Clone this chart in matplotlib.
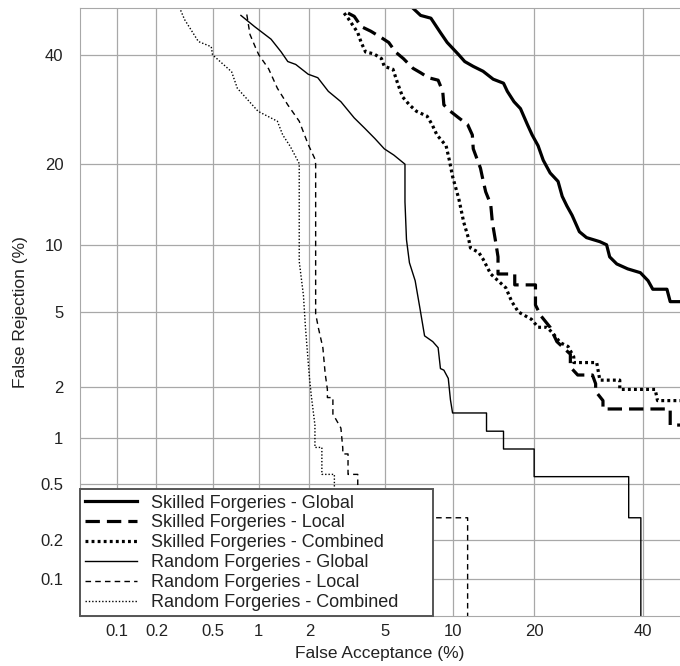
import numpy as np
import matplotlib
matplotlib.use("Agg")
import matplotlib.pyplot as plt
from statistics import NormalDist

# -----------------------------
# DATA (percent values)
# -----------------------------
sg_far = [6.8, 7.3, 8.1, 8.9, 9.5, 10.6, 11.2, 12.1, 13.2, 14.4, 15.7, 16.2, 17.1, 18.0,
          19.0, 19.7, 20.6, 21.4, 22.5, 23.8, 24.5, 25.3, 26.2, 27.5, 28.8, 31.3, 32.6,
          33.2, 34.6, 36.8, 39.4, 41.0, 42.0, 45.0, 45.7, 48.0]
sg_frr = [49.8, 48.4, 47.8, 44.7, 42.6, 40.0, 38.6, 37.6, 36.6, 35.0, 34.2, 32.6, 30.6, 29.3,
          26.4, 24.6, 22.8, 20.5, 18.6, 17.4, 15.4, 14.2, 13.1, 11.3, 10.7, 10.3, 10.0,
          8.9, 8.3, 7.9, 7.6, 7.0, 6.4, 6.4, 5.6, 5.6]

sl_far = [3.25, 3.5, 3.8, 4.25, 4.8, 5.2, 5.6, 6.1, 6.75, 7.3, 7.9, 8.7, 9.1, 9.2, 9.8, 10.6,
          11.5, 12.0, 12.1, 12.9, 13.1, 13.5, 14.1, 14.3, 14.7, 15.0, 15.0, 17.2, 17.2, 20.2,
          20.2, 21.0, 22.5, 23.6, 25.9, 25.9, 27.2, 29.9, 30.5, 30.5, 31.9, 31.9, 45.7, 45.7, 48.0]
sl_frr = [48.9, 48.2, 46.0, 45.0, 43.6, 42.6, 40.6, 39.2, 37.2, 36.3, 35.3, 34.8, 32.6, 30.0,
          28.8, 27.6, 26.4, 24.6, 22.3, 19.3, 18.1, 16.0, 14.4, 12.3, 10.3, 8.9, 7.5, 7.5,
          6.7, 6.7, 5.4, 4.8, 4.2, 3.55, 3.05, 2.6, 2.35, 2.35, 2.1, 1.9, 1.68, 1.5, 1.5,
          1.2, 1.2]

sc_far = [3.1, 3.25, 3.65, 3.8, 4.0, 4.4, 4.8, 4.95, 5.45, 5.75, 6.05, 6.5, 7.0, 7.8, 8.2,
          8.6, 9.4, 9.7, 10.0, 10.6, 11.1, 11.6, 11.8, 12.7, 13.2, 14.1, 15.0, 16.0, 16.8,
          17.7, 19.6, 20.6, 22.0, 23.0, 24.2, 25.5, 26.5, 26.5, 30.7, 31.3, 35.2, 35.2, 42.5,
          43.0, 48.0]
sc_frr = [48.9, 47.8, 44.7, 42.6, 40.6, 40.2, 39.2, 37.6, 37.0, 34.0, 31.5, 30.0, 28.8, 27.9,
          26.4, 24.6, 22.8, 20.5, 18.1, 15.1, 12.3, 10.6, 9.7, 9.3, 8.7, 7.5, 7.0, 6.5, 5.6,
          5.0, 4.6, 4.2, 4.2, 3.9, 3.5, 3.35, 2.95, 2.75, 2.75, 2.2, 2.2, 1.95, 1.95, 1.68, 1.68]

rg_far = [0.77, 0.94, 1.19, 1.37, 1.5, 1.67, 1.97, 2.23, 2.55, 2.98, 3.5, 3.95, 4.45, 4.95,
          5.5, 6.2, 6.2, 6.3, 6.5, 6.9, 7.25, 7.6, 8.25, 8.7, 8.9, 9.2, 9.6, 9.8, 10.0, 13.6,
          13.6, 15.7, 15.7, 20.0, 20.0, 37.0, 37.0, 39.5, 39.5]
rg_frr = [48.4, 46.0, 43.3, 40.6, 38.6, 38.0, 36.0, 35.3, 32.6, 30.6, 27.6, 25.8, 24.0, 22.3,
          21.3, 19.9, 14.7, 10.5, 8.4, 7.0, 5.2, 3.8, 3.55, 3.3, 2.55, 2.5, 2.25, 1.7, 1.42,
          1.42, 1.1, 1.1, 0.85, 0.85, 0.56, 0.56, 0.29, 0.29, 0.01]

rl_far = [0.84, 0.88, 0.96, 1.0, 1.15, 1.3, 1.5, 1.75, 1.97, 2.15, 2.17, 2.17, 2.25, 2.38,
          2.45, 2.52, 2.52, 2.7, 2.7, 2.98, 3.05, 3.05, 3.25, 3.25, 3.65, 3.65, 11.5, 11.5]
rl_frr = [48.6, 44.3, 41.3, 40.0, 37.1, 33.2, 30.0, 27.0, 23.0, 20.7, 19.9, 4.9, 4.15, 3.3,
          2.4, 1.95, 1.75, 1.75, 1.4, 1.15, 0.86, 0.79, 0.79, 0.58, 0.58, 0.29, 0.29, 0.01]

rc_far = [0.30, 0.32, 0.40, 0.49, 0.50, 0.67, 0.73, 0.99, 1.30, 1.40, 1.55, 1.75, 1.75, 1.85,
          1.90, 2.00, 2.05, 2.15, 2.15, 2.35, 2.35, 2.75, 2.75]
rc_frr = [49.5, 47.5, 42.8, 41.7, 40.0, 36.5, 33.2, 28.8, 27.0, 24.6, 22.7, 20.0, 8.5, 6.0,
          4.2, 2.3, 1.8, 1.2, 0.87, 0.87, 0.58, 0.58, 0.3]

tick_vals = [0.1, 0.2, 0.5, 1, 2, 5, 10, 20, 40]
tick_labels = ["0.1", "0.2", "0.5", "1", "2", "5", "10", "20", "40"]

# -----------------------------
# NORMAL DEVIATE (probit) SCALE
# -----------------------------
_nd = NormalDist()
_ppf = np.vectorize(_nd.inv_cdf, otypes=[float])
_cdf = np.vectorize(_nd.cdf, otypes=[float])


def to_probit(p):
    p = np.clip(np.asarray(p, dtype=float) / 100.0, 1e-7, 1 - 1e-7)
    return _ppf(p)


def from_probit(z):
    return _cdf(np.asarray(z, dtype=float)) * 100.0


plt.rcParams['font.family'] = ['Liberation Sans', 'DejaVu Sans']
txt_col = '#222222'

fig = plt.figure(figsize=(6.8, 6.66), dpi=100)
ax = fig.add_axes([80 / 680, 50 / 666, 600 / 680, 608 / 666])
ax.set_xscale('function', functions=(to_probit, from_probit))
ax.set_yscale('function', functions=(to_probit, from_probit))

# curves
ax.plot(sg_far, sg_frr, color='black', lw=2.3, label='Skilled Forgeries - Global')
ax.plot(sl_far, sl_frr, color='black', lw=2.3, dashes=(4.5, 2.2),
        label='Skilled Forgeries - Local')
ax.plot(sc_far, sc_frr, color='black', lw=2.3, dashes=(0.9, 1.0),
        label='Skilled Forgeries - Combined')
ax.plot(rg_far, rg_frr, color='black', lw=1.0, label='Random Forgeries - Global')
ax.plot(rl_far, rl_frr, color='black', lw=1.0, dashes=(4, 3),
        label='Random Forgeries - Local')
ax.plot(rc_far, rc_frr, color='black', lw=1.0, dashes=(1, 1.4),
        label='Random Forgeries - Combined')

ax.set_xlim(0.05, 47.8)
ax.set_ylim(0.05, 50)

ax.set_xticks(tick_vals)
ax.set_xticklabels(tick_labels)
ax.set_yticks(tick_vals)
ax.set_yticklabels(tick_labels)
ax.minorticks_off()
ax.tick_params(length=0, labelsize=12, colors=txt_col)
ax.tick_params(axis='x', pad=6)
ax.tick_params(axis='y', pad=12)

ax.grid(True, color='#a8a8a8', lw=0.9)
ax.set_axisbelow(True)
for side in ['left', 'bottom', 'top']:
    ax.spines[side].set_color('#a8a8a8')
ax.spines['right'].set_visible(False)

ax.set_xlabel('False Acceptance (%)', fontsize=12.5, color=txt_col, labelpad=5)
ax.set_ylabel('False Rejection (%)', fontsize=12.5, color=txt_col, labelpad=9)

leg = ax.legend(loc='lower left', bbox_to_anchor=(0, 0, 0.588, 0.2),
                mode='expand', borderaxespad=0, fontsize=13, handlelength=2.9,
                handletextpad=0.75, labelspacing=0.16, borderpad=0.28,
                fancybox=False, framealpha=1)
leg.get_frame().set_edgecolor('#555555')
leg.get_frame().set_linewidth(1.4)
for t in leg.get_texts():
    t.set_color(txt_col)

fig.savefig('out.png', dpi=100)
